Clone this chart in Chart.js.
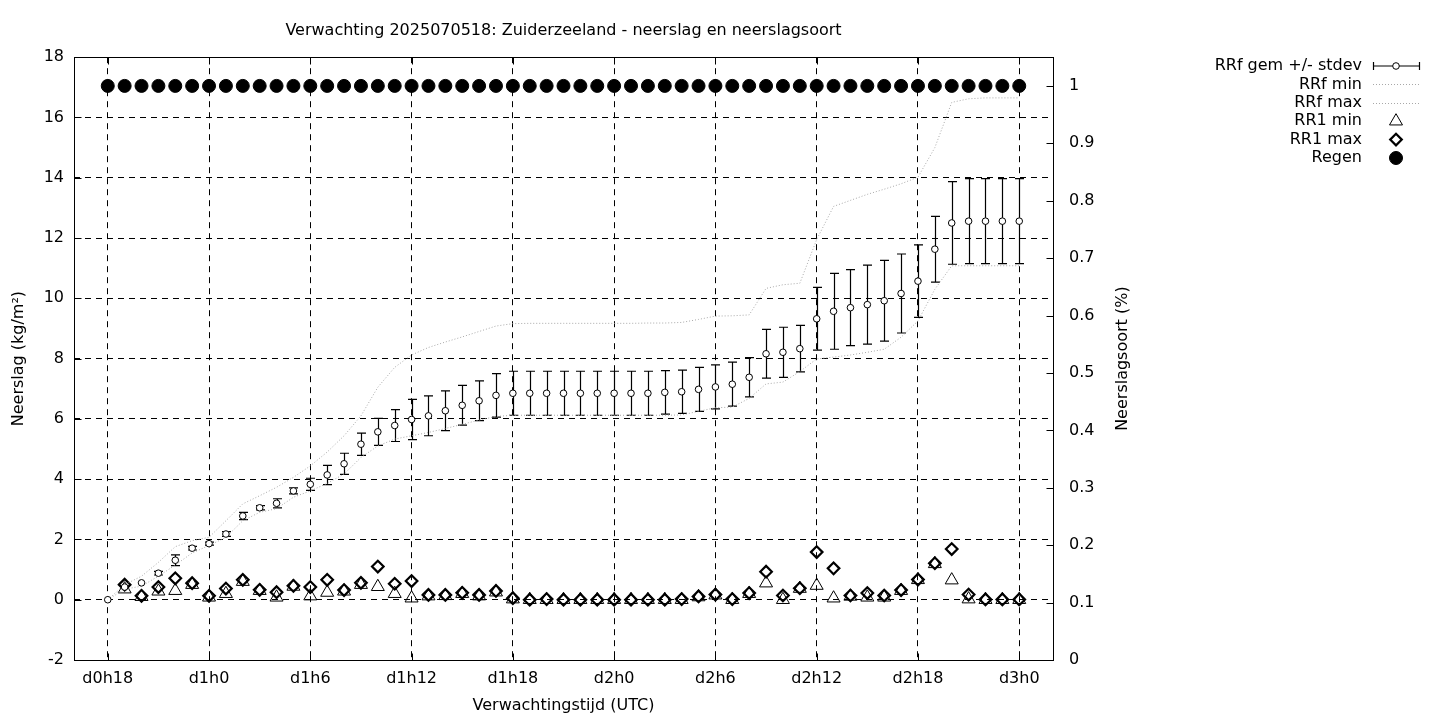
<!DOCTYPE html>
<html>
<head>
<meta charset="utf-8">
<title>Verwachting 2025070518: Zuiderzeeland</title>
<script src="https://cdn.jsdelivr.net/npm/chart.js@4.4.1/dist/chart.umd.min.js"></script>
<style>
  html, body { margin: 0; padding: 0; background: #fff; }
</style>
</head>
<body>
<canvas id="grafiek" width="1440" height="720"></canvas>
<script>
// ===================== DATA =====================

// uren na d0h0 (d0h18 = 18, d3h0 = 72)
const uren = [18, 19, 20, 21, 22, 23, 24, 25, 26, 27, 28, 29, 30, 31, 32, 33, 34, 35, 36,
  37, 38, 39, 40, 41, 42, 43, 44, 45, 46, 47, 48, 49, 50, 51, 52, 53, 54, 55,
  56, 57, 58, 59, 60, 61, 62, 63, 64, 65, 66, 67, 68, 69, 70, 71, 72];

const tijdTicks  = [18, 24, 30, 36, 42, 48, 54, 60, 66, 72];
const tijdLabels = ["d0h18", "d1h0", "d1h6", "d1h12", "d1h18", "d2h0", "d2h6", "d2h12", "d2h18", "d3h0"];
const soortTicks = [0, 0.1, 0.2, 0.3, 0.4, 0.5, 0.6, 0.7, 0.8, 0.9, 1];

// RRf gemiddelde en standaarddeviatie (kg/m2, cumulatief)
const rrfGem = [0.00, 0.42, 0.56, 0.88, 1.31, 1.71, 1.86, 2.18, 2.78, 3.05, 3.20, 3.61, 3.83,
  4.14, 4.51, 5.16, 5.57, 5.78, 5.98, 6.10, 6.27, 6.45, 6.60, 6.78, 6.85, 6.85, 6.85, 6.85,
  6.85, 6.85, 6.85, 6.85, 6.85, 6.88, 6.90, 6.98, 7.06, 7.15, 7.38, 8.16, 8.21, 8.33, 9.32,
  9.57, 9.69, 9.79, 9.92, 10.16, 10.57, 11.63, 12.50, 12.56, 12.56, 12.56, 12.56];

const rrfStdev = [0, 0, 0, 0.06, 0.18, 0.06, 0.05, 0.08, 0.12, 0.07, 0.15, 0.10, 0.20,
  0.32, 0.35, 0.37, 0.45, 0.53, 0.67, 0.66, 0.66, 0.66, 0.66, 0.72, 0.73, 0.73, 0.73, 0.73,
  0.73, 0.73, 0.73, 0.73, 0.73, 0.72, 0.72, 0.73, 0.73, 0.73, 0.65, 0.81, 0.83, 0.77, 1.04,
  1.26, 1.26, 1.31, 1.34, 1.31, 1.20, 1.09, 1.37, 1.41, 1.41, 1.41, 1.41];

const rrfMin = [0, 0.35, 0.45, 0.78, 1.15, 1.55, 1.80, 2.07, 2.62, 2.90, 3.02, 3.40, 3.61,
  3.86, 4.17, 4.72, 5.10, 5.33, 5.44, 5.55, 5.68, 5.82, 5.96, 6.08, 6.12, 6.12, 6.12, 6.12,
  6.12, 6.12, 6.12, 6.12, 6.12, 6.12, 6.13, 6.25, 6.37, 6.39, 6.68, 7.16, 7.22, 7.57, 7.99,
  8.05, 8.12, 8.21, 8.31, 8.71, 9.25, 10.30, 11.08, 11.08, 11.08, 11.08, 11.08];

const rrfMax = [0, 0.50, 0.78, 1.24, 1.76, 1.96, 2.07, 2.62, 3.18, 3.45, 3.73, 4.06, 4.44,
  4.90, 5.44, 6.10, 7.05, 7.71, 8.12, 8.37, 8.55, 8.72, 8.90, 9.08, 9.16, 9.17, 9.17, 9.17,
  9.17, 9.17, 9.17, 9.17, 9.18, 9.18, 9.20, 9.30, 9.41, 9.42, 9.45, 10.33, 10.45, 10.50, 11.95,
  13.05, 13.25, 13.45, 13.62, 13.80, 14.02, 15.00, 16.50, 16.62, 16.65, 16.65, 16.65];

// RR1 (uurlijkse neerslag) min en max
const rr1Min = [null, 0.35, 0.10, 0.28, 0.30, 0.50, 0.08, 0.20, 0.60, 0.30, 0.08, 0.44, 0.12,
  0.24, 0.28, 0.50, 0.43, 0.20, 0.05, 0.12, 0.13, 0.20, 0.12, 0.25, 0.02, 0, 0, 0, 0,
  0, 0, 0, 0, 0, 0, 0.09, 0.15, 0, 0.20, 0.55, 0, 0.37, 0.47,
  0.05, 0.11, 0.08, 0.08, 0.30, 0.66, 1.19, 0.65, 0.02, 0, 0, 0];

const rr1Max = [null, 0.50, 0.13, 0.42, 0.71, 0.55, 0.13, 0.37, 0.66, 0.33, 0.25, 0.46, 0.42,
  0.66, 0.32, 0.56, 1.10, 0.53, 0.62, 0.16, 0.16, 0.23, 0.16, 0.29, 0.05, 0, 0.02, 0, 0,
  0, 0, 0, 0, 0, 0.02, 0.11, 0.17, 0.02, 0.22, 0.93, 0.14, 0.38, 1.58,
  1.04, 0.14, 0.22, 0.14, 0.32, 0.67, 1.21, 1.68, 0.17, 0.01, 0.01, 0.01];

// neerslagsoort regen (rechter as)
const regen = [1, 1, 1, 1, 1, 1, 1, 1, 1, 1, 1, 1, 1, 1, 1, 1, 1, 1, 1,
  1, 1, 1, 1, 1, 1, 1, 1, 1, 1, 1, 1, 1, 1, 1, 1, 1, 1, 1,
  1, 1, 1, 1, 1, 1, 1, 1, 1, 1, 1, 1, 1, 1, 1, 1, 1];

// ===================== STIJL =====================

const FONT_FAMILY = "'DejaVu Sans', sans-serif";
const FONT_SIZE = 16;
const FONT = `${FONT_SIZE}px ${FONT_FAMILY}`;
const GRIJS = "#a8a8a8";

const punten = (reeks) => uren.map((u, i) => ({ x: u, y: reeks[i] }));

// ===================== PLUGINS =====================

// foutbalken voor RRf gem +/- stdev
const foutbalkPlugin = {
  id: "foutbalken",
  beforeDatasetsDraw(chart) {
    const { ctx, scales: { x, y } } = chart;
    ctx.save();
    ctx.strokeStyle = "#000";
    ctx.lineWidth = 1.2;
    uren.forEach((u, i) => {
      const sd = rrfStdev[i];
      if (!sd) return;
      const px = Math.round(x.getPixelForValue(u)) + 0.5;
      const yBoven = y.getPixelForValue(rrfGem[i] + sd);
      const yOnder = y.getPixelForValue(rrfGem[i] - sd);
      ctx.beginPath();
      ctx.moveTo(px, yBoven); ctx.lineTo(px, yOnder);
      ctx.moveTo(px - 4.5, yBoven); ctx.lineTo(px + 4.5, yBoven);
      ctx.moveTo(px - 4.5, yOnder); ctx.lineTo(px + 4.5, yOnder);
      ctx.stroke();
    });
    ctx.restore();
  },
};

// kader, tics naar binnen, titel rechter as en legenda
const kaderPlugin = {
  id: "kader",
  afterDraw(chart) {
    const { ctx, chartArea: ca, scales: { x, y, y2 } } = chart;
    const L = Math.round(ca.left) + 0.5, R = Math.round(ca.right) + 0.5;
    const T = Math.round(ca.top) + 0.5, B = Math.round(ca.bottom) + 0.5;
    const tic = 7;
    ctx.save();
    ctx.strokeStyle = "#000";
    ctx.lineWidth = 1;
    ctx.strokeRect(L, T, R - L, B - T);
    ctx.beginPath();
    x.ticks.forEach(t => {
      const px = Math.round(x.getPixelForValue(t.value)) + 0.5;
      ctx.moveTo(px, B); ctx.lineTo(px, B - tic);
      ctx.moveTo(px, T); ctx.lineTo(px, T + tic);
    });
    y.ticks.forEach(t => {
      const py = Math.round(y.getPixelForValue(t.value)) + 0.5;
      ctx.moveTo(L, py); ctx.lineTo(L + tic, py);
    });
    y2.ticks.forEach(t => {
      const py = Math.round(y2.getPixelForValue(t.value)) + 0.5;
      ctx.moveTo(R, py); ctx.lineTo(R - tic, py);
    });
    ctx.stroke();

    // titel rechter as, van onder naar boven
    ctx.fillStyle = "#000";
    ctx.font = FONT;
    ctx.textAlign = "center";
    ctx.textBaseline = "middle";
    ctx.translate(1123, (ca.top + ca.bottom) / 2);
    ctx.rotate(-Math.PI / 2);
    ctx.fillText("Neerslagsoort (%)", 0, 0);
    ctx.restore();

    // legenda
    const tekstX = 1362, symX = 1396, y0 = 66, dy = 18.4;
    ctx.save();
    ctx.font = FONT;
    ctx.textAlign = "right";
    ctx.textBaseline = "middle";
    chart.data.datasets.forEach((ds, i) => {
      const ly = y0 + i * dy;
      ctx.fillStyle = "#000";
      ctx.fillText(ds.label, tekstX, ly);
      if (ds.legendaSoort === "foutbalk") {
        ctx.strokeStyle = "#000";
        ctx.lineWidth = 1.2;
        ctx.beginPath();
        ctx.moveTo(1373, ly); ctx.lineTo(1419, ly);
        ctx.moveTo(1373.5, ly - 4); ctx.lineTo(1373.5, ly + 4);
        ctx.moveTo(1419.5, ly - 4); ctx.lineTo(1419.5, ly + 4);
        ctx.stroke();
      } else if (ds.legendaSoort === "lijn") {
        ctx.strokeStyle = ds.borderColor;
        ctx.lineWidth = ds.borderWidth;
        ctx.setLineDash(ds.borderDash);
        ctx.beginPath();
        ctx.moveTo(1373, Math.round(ly) + 0.5); ctx.lineTo(1419, Math.round(ly) + 0.5);
        ctx.stroke();
        ctx.setLineDash([]);
        return;
      }
      ctx.fillStyle = ds.pointBackgroundColor;
      ctx.strokeStyle = ds.pointBorderColor;
      ctx.lineWidth = ds.pointBorderWidth;
      Chart.helpers.drawPoint(ctx, {
        pointStyle: ds.pointStyle,
        radius: ds.pointRadius,
        rotation: 0,
        borderWidth: ds.pointBorderWidth,
      }, symX, ly);
    });
    ctx.restore();
  },
};

// ===================== GRAFIEK =====================

function renderGrafiek() {
  const canvas = document.getElementById("grafiek");

  new Chart(canvas.getContext("2d"), {
    type: "scatter",
    data: {
      datasets: [
        {
          label: "RRf gem +/- stdev",
          legendaSoort: "foutbalk",
          data: punten(rrfGem),
          pointStyle: "circle",
          pointRadius: 3.3,
          pointBorderWidth: 1,
          pointBackgroundColor: "#fff",
          pointBorderColor: "#000",
        },
        {
          label: "RRf min",
          legendaSoort: "lijn",
          data: punten(rrfMin),
          showLine: true,
          borderColor: GRIJS,
          borderWidth: 1,
          borderDash: [1, 2],
          pointRadius: 0,
          tension: 0,
        },
        {
          label: "RRf max",
          legendaSoort: "lijn",
          data: punten(rrfMax),
          showLine: true,
          borderColor: GRIJS,
          borderWidth: 1,
          borderDash: [1, 2],
          pointRadius: 0,
          tension: 0,
        },
        {
          label: "RR1 min",
          data: punten(rr1Min),
          pointStyle: "triangle",
          pointRadius: 7.5,
          pointBorderWidth: 1,
          pointBackgroundColor: "rgba(0,0,0,0)",
          pointBorderColor: "#000",
        },
        {
          label: "RR1 max",
          data: punten(rr1Max),
          pointStyle: "rectRot",
          pointRadius: 5.8,
          pointBorderWidth: 2.2,
          pointBackgroundColor: "rgba(0,0,0,0)",
          pointBorderColor: "#000",
        },
        {
          label: "Regen",
          data: punten(regen),
          yAxisID: "y2",
          pointStyle: "circle",
          pointRadius: 6.5,
          pointBorderWidth: 1,
          pointBackgroundColor: "#000",
          pointBorderColor: "#000",
        },
      ],
    },
    options: {
      responsive: false,
      animation: false,
      devicePixelRatio: 1,
      layout: { padding: { left: 0, right: 299, top: 0, bottom: 0 } },
      scales: {
        x: {
          type: "linear",
          min: 16,
          max: 74,
          afterFit: s => { s.height = 60; },
          afterBuildTicks: s => { s.ticks = tijdTicks.map(v => ({ value: v })); },
          ticks: {
            callback: v => tijdLabels[tijdTicks.indexOf(v)],
            color: "#000",
            font: { family: FONT_FAMILY, size: FONT_SIZE },
            padding: 9,
            maxRotation: 0,
            autoSkip: false,
          },
          grid: { color: "#000", lineWidth: 1, drawTicks: false },
          border: { display: false, dash: [6, 5] },
          title: {
            display: true,
            text: "Verwachtingstijd (UTC)",
            color: "#000",
            font: { family: FONT_FAMILY, size: FONT_SIZE },
            padding: { top: 9, bottom: 5 },
          },
        },
        y: {
          position: "left",
          min: -2,
          max: 18,
          afterFit: s => { s.width = 74; },
          ticks: {
            stepSize: 2,
            color: "#000",
            font: { family: FONT_FAMILY, size: FONT_SIZE },
            padding: 10,
          },
          grid: { color: "#000", lineWidth: 1, drawTicks: false },
          border: { display: false, dash: [6, 5] },
          title: {
            display: true,
            text: "Neerslag (kg/m²)",
            color: "#000",
            font: { family: FONT_FAMILY, size: FONT_SIZE },
            padding: { top: 9, bottom: 0 },
          },
        },
        y2: {
          position: "right",
          min: 0,
          max: 1.05,
          afterFit: s => { s.width = 88; },
          afterBuildTicks: s => { s.ticks = soortTicks.map(v => ({ value: v })); },
          ticks: {
            callback: v => String(+v.toFixed(2)),
            color: "#000",
            font: { family: FONT_FAMILY, size: FONT_SIZE },
            padding: 16,
          },
          grid: { display: false, drawTicks: false },
          border: { display: false },
        },
      },
      plugins: {
        legend: { display: false },
        tooltip: { enabled: false },
        title: {
          display: true,
          fullSize: false,
          text: "Verwachting 2025070518: Zuiderzeeland - neerslag en neerslagsoort",
          color: "#000",
          font: { family: FONT_FAMILY, size: FONT_SIZE, weight: "normal" },
          padding: { top: 21, bottom: 17 },
        },
      },
    },
    plugins: [foutbalkPlugin, kaderPlugin],
  });
}

document.addEventListener("DOMContentLoaded", renderGrafiek);
</script>
</body>
</html>
